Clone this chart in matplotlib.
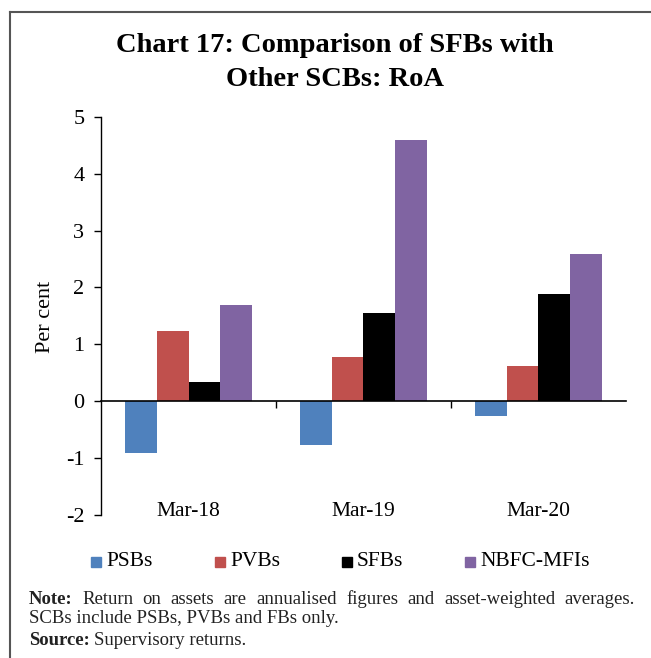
import numpy as np
import matplotlib
matplotlib.use("Agg")
import matplotlib.pyplot as plt
from matplotlib.lines import Line2D

plt.rcParams['font.family'] = ['Liberation Serif', 'DejaVu Serif']
plt.rcParams['axes.unicode_minus'] = False

periods = ["Mar-18", "Mar-19", "Mar-20"]
series = ["PSBs", "PVBs", "SFBs", "NBFC-MFIs"]
psbs = [-0.92, -0.77, -0.27]
pvbs = [1.23, 0.78, 0.61]
sfbs = [0.34, 1.55, 1.89]
nbfc = [1.69, 4.60, 2.59]
colors = ["#4F81BD", "#C0504D", "#000000", "#8064A2"]

W, H = 651, 658
fig = plt.figure(figsize=(W/100, H/100), dpi=100)

# axes placed in pixel terms
x0, x1, ytop, ybot = 101, 626, 117, 514.6
ax = fig.add_axes([x0/W, 1-ybot/H, (x1-x0)/W, (ybot-ytop)/H])

x = np.arange(len(periods))
w = 0.182
for i, (vals, c) in enumerate(zip([psbs, pvbs, sfbs, nbfc], colors)):
	ax.bar(x + (i-1.5)*w, vals, w, color=c, label=series[i], zorder=2)

ax.set_xlim(-0.5, 2.5)
ax.set_ylim(-2, 5)
ax.set_yticks(range(-2, 6))
ax.tick_params(axis='y', direction='out', length=5, width=1, labelsize=16, pad=7)
ax.set_xticks([0.5, 1.5])
ax.set_xticklabels([])
ax.tick_params(axis='x', direction='out', length=5, width=1)
ax.spines['top'].set_visible(False)
ax.spines['right'].set_visible(False)
ax.spines['bottom'].set_position(('data', 0))
ax.spines['bottom'].set_zorder(3)
ax.spines['left'].set_linewidth(1)
ax.spines['bottom'].set_linewidth(1.2)

for xi, p in zip(x, periods):
	ax.text(xi, -1.95, p, ha='center', va='center', fontsize=15.5)

fig.text(45/W, 1-317/H, "Per cent", rotation=90, ha='center', va='center', fontsize=16)

# title
fig.text(335/W, 1-45/H, "Chart 17: Comparison of SFBs with", ha='center', va='center',
	fontsize=20.5, fontweight='bold')
fig.text(335/W, 1-80/H, "Other SCBs: RoA", ha='center', va='center',
	fontsize=20.5, fontweight='bold')

# legend
leg_x = [91, 215, 342, 465]
for lx, name, c in zip(leg_x, series, colors):
	fig.patches.append(plt.Rectangle((lx/W, 1-567/H), 10/W, 10/H, color=c,
		transform=fig.transFigure, figure=fig))
	fig.text((lx+15)/W, 1-562/H, name, ha='left', va='center', fontsize=15.5)

# frame lines
fig.add_artist(Line2D([10/W, 10/W], [0, 1-12/H], color='#555555', lw=1.5))
fig.add_artist(Line2D([10/W, 1], [1-12/H, 1-12/H], color='#555555', lw=1.5))

# note, first line justified
fig.canvas.draw()
r = fig.canvas.get_renderer()
words = ["Note:", "Return", "on", "assets", "are", "annualised", "figures", "and",
	"asset-weighted", "averages."]
nfs = 13.5
tw = []
arts = []
for k, wd in enumerate(words):
	t = fig.text(0, 1-604/H, wd, ha='left', va='baseline', fontsize=nfs,
		fontweight='bold' if k == 0 else 'normal', color='#222222')
	tw.append(t.get_window_extent(r).width)
	arts.append(t)
left, right = 29, 635
gap = (right-left-sum(tw))/(len(words)-1)
pos = left
for t, wdt in zip(arts, tw):
	t.set_x(pos/W)
	pos += wdt + gap

fig.text(29/W, 1-623/H, "SCBs include PSBs, PVBs and FBs only.", ha='left', va='baseline',
	fontsize=nfs, color='#222222')
t = fig.text(29/W, 1-645/H, "Source:", ha='left', va='baseline', fontsize=nfs,
	fontweight='bold', color='#222222')
sw = t.get_window_extent(r).width
fig.text((29+sw+4)/W, 1-645/H, "Supervisory returns.", ha='left', va='baseline',
	fontsize=nfs, color='#222222')

fig.savefig("out.png", dpi=100)
